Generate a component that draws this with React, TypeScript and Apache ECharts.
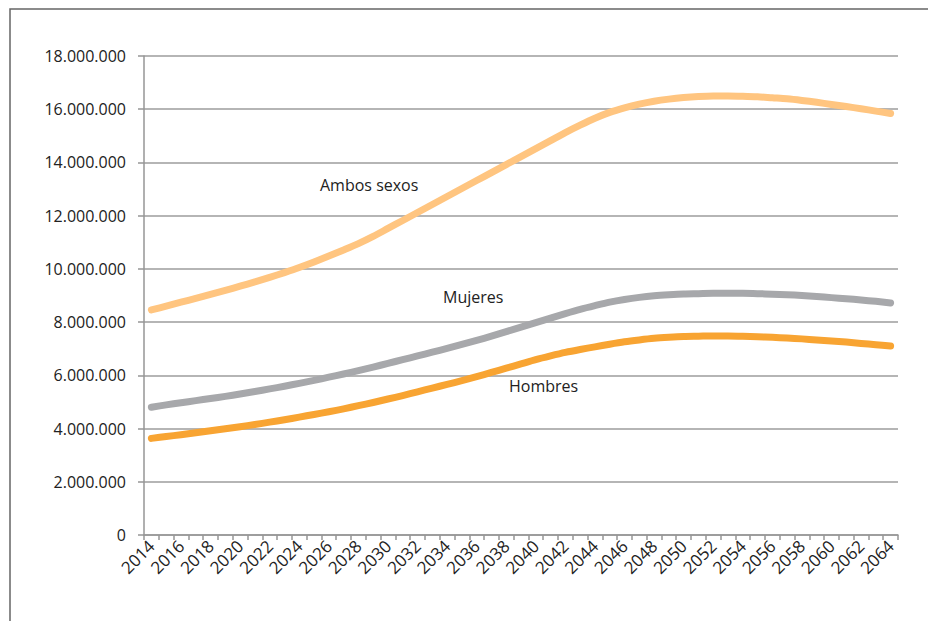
import React, { useEffect, useRef } from "react";
import * as echarts from "echarts";

// Years 2014–2064
const years: string[] = Array.from({ length: 51 }, (_, i) => String(2014 + i));

// Projected population (millions)
const ambosSexos: number[] = [
  8.46, 8.6, 8.75, 8.89, 9.04, 9.19, 9.35, 9.51, 9.68, 9.86,
  10.05, 10.26, 10.48, 10.71, 10.95, 11.22, 11.52, 11.82, 12.12, 12.42,
  12.72, 13.02, 13.32, 13.62, 13.92, 14.22, 14.52, 14.82, 15.12, 15.4,
  15.66, 15.88, 16.05, 16.19, 16.3, 16.38, 16.44, 16.48, 16.5, 16.5,
  16.49, 16.47, 16.43, 16.39, 16.33, 16.26, 16.18, 16.1, 16.02, 15.93,
  15.84,
];
const mujeres: number[] = [
  4.8, 4.89, 4.97, 5.05, 5.13, 5.21, 5.3, 5.39, 5.49, 5.59,
  5.7, 5.81, 5.93, 6.05, 6.18, 6.31, 6.45, 6.59, 6.73, 6.87,
  7.01, 7.16, 7.31, 7.47, 7.64, 7.81, 7.98, 8.15, 8.32, 8.48,
  8.62, 8.75, 8.85, 8.93, 8.99, 9.03, 9.06, 9.07, 9.08, 9.08,
  9.08, 9.07, 9.05, 9.03, 9.0, 8.96, 8.92, 8.88, 8.83, 8.78,
  8.72,
];
const hombres: number[] = [
  3.63, 3.7, 3.77, 3.84, 3.92, 3.99, 4.07, 4.15, 4.24, 4.33,
  4.43, 4.53, 4.63, 4.74, 4.86, 4.98, 5.11, 5.24, 5.38, 5.52,
  5.66, 5.8, 5.95, 6.11, 6.27, 6.43, 6.59, 6.73, 6.86, 6.97,
  7.07, 7.17, 7.26, 7.33, 7.39, 7.43, 7.46, 7.47, 7.48, 7.48,
  7.47, 7.45, 7.43, 7.4, 7.37, 7.33, 7.29, 7.25, 7.2, 7.15,
  7.1,
];

const seriesNames = ["Ambos sexos", "Mujeres", "Hombres"];
const seriesColors = ["#FFC580", "#A7A8AB", "#F8A432"];

const FONT = "'Open Sans', 'Noto Sans', sans-serif";

const fmtThousands = (v: number) =>
  Math.round(v).toString().replace(/\B(?=(\d{3})+(?!\d))/g, ".");

const toPeople = (arr: number[]) => arr.map((v) => Math.round(v * 1e6));

export default function App() {
  const ref = useRef<HTMLDivElement>(null);

  useEffect(() => {
    document.body.style.margin = "0";
    if (!ref.current) return;
    const chart = echarts.init(ref.current, null, { renderer: "svg" });

    const lineSeries = [ambosSexos, mujeres, hombres].map((d, i) => ({
      name: seriesNames[i],
      type: "line" as const,
      data: toPeople(d),
      smooth: 0.3,
      symbol: "none",
      lineStyle: { color: seriesColors[i], width: 7, cap: "round" as const, join: "round" as const },
      z: 3 + (2 - i),
    }));

    chart.setOption({
      animation: false,
      backgroundColor: "#ffffff",
      grid: { left: 144, right: 30, top: 56, bottom: 86, containLabel: false },
      xAxis: {
        type: "category",
        data: years,
        boundaryGap: true,
        axisLine: { show: true, lineStyle: { color: "#969696", width: 1.5 } },
        axisTick: { show: true, interval: 0, length: 5, lineStyle: { color: "#969696", width: 1.5 } },
        axisLabel: {
          interval: 1,
          rotate: 45,
          margin: 8,
          color: "#222",
          fontSize: 17,
          fontFamily: FONT,
        },
        splitLine: { show: false },
      },
      yAxis: {
        type: "value",
        min: 0,
        max: 18000000,
        interval: 2000000,
        axisLine: { show: true, lineStyle: { color: "#969696", width: 1.5 } },
        axisTick: { show: true, inside: false, length: 6, lineStyle: { color: "#969696", width: 1.5 } },
        axisLabel: {
          margin: 18,
          color: "#222",
          fontSize: 16,
          fontFamily: FONT,
          formatter: (v: number) => fmtThousands(v),
        },
        splitLine: { show: true, lineStyle: { color: "#9c9c9c", width: 1.5 } },
      },
      series: lineSeries,
      graphic: [
        {
          type: "rect",
          shape: { x: 10, y: 9, width: 940, height: 640 },
          style: { fill: "none", stroke: "#666666", lineWidth: 1.5 },
          silent: true,
          z: -1,
        },
        {
          type: "text",
          x: 320,
          y: 185,
          style: { text: "Ambos sexos", fill: "#222", font: `16px ${FONT}`, textVerticalAlign: "middle" },
        },
        {
          type: "text",
          x: 443,
          y: 297,
          style: { text: "Mujeres", fill: "#222", font: `16px ${FONT}`, textVerticalAlign: "middle" },
        },
        {
          type: "text",
          x: 509,
          y: 386,
          style: { text: "Hombres", fill: "#222", font: `16px ${FONT}`, textVerticalAlign: "middle" },
        },
      ],
    });

    return () => chart.dispose();
  }, []);

  return <div ref={ref} style={{ width: 928, height: 621 }} />;
}
